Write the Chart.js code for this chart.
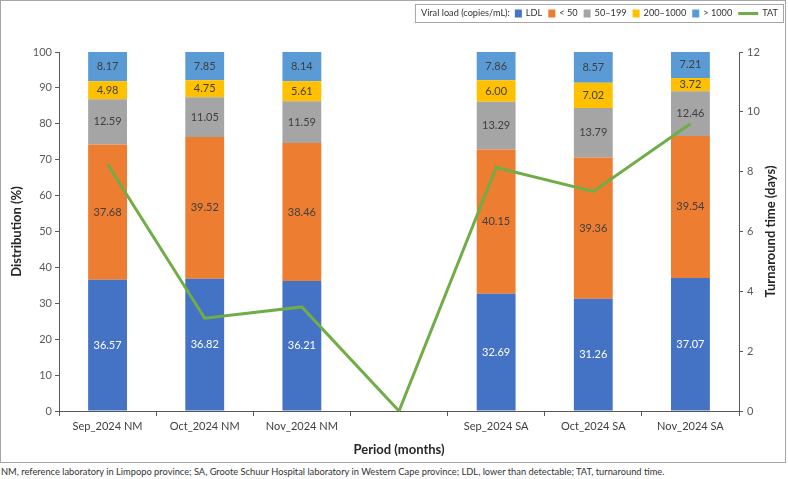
<!DOCTYPE html>
<html>
<head>
<meta charset="utf-8">
<script src="https://cdn.jsdelivr.net/npm/chart.js@4"></script>
<style>
  body { margin: 0; background: #fff; font-family: Lato, sans-serif; }
  #wrap { position: absolute; left: 0; top: 0; width: 784px; height: 461px; border: 1px solid #a6a6a6; }
  #note { position: absolute; left: 1px; top: 466px; font-size: 9.3px; color: #333; white-space: nowrap; }
</style>
</head>
<body>
<div id="wrap"><canvas id="chart"></canvas></div>
<div id="note">NM, reference laboratory in Limpopo province; SA, Groote Schuur Hospital laboratory in Western Cape province; LDL, lower than detectable; TAT, turnaround time.</div>
<script>
// Data
const periods = ['Sep_2024 NM', 'Oct_2024 NM', 'Nov_2024 NM', '', 'Sep_2024 SA', 'Oct_2024 SA', 'Nov_2024 SA'];
const ldl = [36.57, 36.82, 36.21, null, 32.69, 31.26, 37.07];
const below50 = [37.68, 39.52, 38.46, null, 40.15, 39.36, 39.54];
const range50to199 = [12.59, 11.05, 11.59, null, 13.29, 13.79, 12.46];
const range200to1000 = [4.98, 4.75, 5.61, null, 6.00, 7.02, 3.72];
const above1000 = [8.17, 7.85, 8.14, null, 7.86, 8.57, 7.21];
const tat = [8.25, 3.1, 3.48, 0, 8.14, 7.34, 9.6];

const distTicks = [0, 10, 20, 30, 40, 50, 60, 70, 80, 90, 100];
const tatTicks = [0, 2, 4, 6, 8, 10, 12];

const axisColor = '#595959';
const FONT = 'Lato, sans-serif';

function barSet(label, data, color, textColor) {
    return {
        type: 'bar', label: label, data: data, backgroundColor: color,
        yAxisID: 'y', stack: 'vl', order: 2,
        barPercentage: 0.4, categoryPercentage: 1.0,
        labelColor: textColor
    };
}

// Value labels inside bar segments
const barLabels = {
    id: 'barLabels',
    afterDatasetsDraw(chart) {
        const ctx = chart.ctx;
        ctx.save();
        ctx.font = '11px ' + FONT;
        ctx.textAlign = 'center';
        ctx.textBaseline = 'middle';
        chart.data.datasets.forEach((ds, i) => {
            if (ds.type !== 'bar') return;
            chart.getDatasetMeta(i).data.forEach((bar, j) => {
                const v = ds.data[j];
                if (v == null) return;
                ctx.fillStyle = ds.labelColor;
                const y = (bar.y + bar.base) / 2;
                ctx.fillText(v.toFixed(2), bar.x, y);
            });
        });
        ctx.restore();
    }
};

// Right axis title reads bottom-to-top, like Excel
const rightTitle = {
    id: 'rightTitle',
    afterDraw(chart) {
        const ctx = chart.ctx;
        const area = chart.chartArea;
        ctx.save();
        ctx.font = 'bold 13px ' + FONT;
        ctx.fillStyle = '#262626';
        ctx.textAlign = 'center';
        ctx.textBaseline = 'middle';
        ctx.translate(770, (area.top + area.bottom) / 2);
        ctx.rotate(-Math.PI / 2);
        ctx.fillText('Turnaround time (days)', 0, 0);
        ctx.restore();
    }
};

// Excel-style inline legend in a box
const boxLegend = {
    id: 'boxLegend',
    afterDraw(chart) {
        const ctx = chart.ctx;
        ctx.save();
        ctx.font = '9.2px ' + FONT;
        ctx.textBaseline = 'middle';
        ctx.fillStyle = '#333';
        const right = 782, top = 3, h = 18;
        const cy = top + h / 2 + 0.5;
        const title = 'Viral load (copies/mL):';
        const items = chart.data.datasets.map(ds => ({ label: ds.label, color: ds.type === 'line' ? ds.borderColor : ds.backgroundColor, line: ds.type === 'line' }));
        let w = ctx.measureText(title).width + 5;
        items.forEach(it => { w += (it.line ? 20 : 7) + 4 + ctx.measureText(it.label).width + 6; });
        const left = right - w - 5;
        ctx.strokeStyle = '#a6a6a6';
        ctx.lineWidth = 1;
        ctx.strokeRect(left + 0.5, top + 0.5, right - left, h);
        let x = left + 6;
        ctx.fillText(title, x, cy);
        x += ctx.measureText(title).width + 5;
        items.forEach(it => {
            if (it.line) {
                ctx.strokeStyle = it.color;
                ctx.lineWidth = 3;
                ctx.beginPath();
                ctx.moveTo(x, cy);
                ctx.lineTo(x + 20, cy);
                ctx.stroke();
                x += 20 + 4;
            } else {
                ctx.fillStyle = it.color;
                ctx.fillRect(x, cy - 4, 7, 8);
                x += 7 + 4;
            }
            ctx.fillStyle = '#333';
            ctx.fillText(it.label, x, cy);
            x += ctx.measureText(it.label).width + 6;
        });
        ctx.restore();
    }
};

new Chart(document.getElementById('chart'), {
    data: {
        labels: periods,
        datasets: [
            barSet('LDL', ldl, '#4472C4', '#ffffff'),
            barSet('< 50', below50, '#ED7D31', '#404040'),
            barSet('50\u2013199', range50to199, '#A5A5A5', '#404040'),
            barSet('200\u20131000', range200to1000, '#FFC000', '#404040'),
            barSet('> 1000', above1000, '#5B9BD5', '#404040'),
            {
                type: 'line', label: 'TAT', data: tat, yAxisID: 'y1', order: 1,
                borderColor: '#70AD47', backgroundColor: '#70AD47', borderWidth: 3,
                pointRadius: 0, tension: 0, fill: false
            }
        ]
    },
    options: {
        responsive: true,
        maintainAspectRatio: false,
        animation: false,
        layout: { padding: { top: 51, left: 0, right: 0, bottom: 0 } },
        plugins: { legend: { display: false }, tooltip: { enabled: false } },
        scales: {
            x: {
                stacked: true,
                offset: true,
                afterFit: s => { s.height = 51; },
                border: { color: axisColor },
                grid: { offset: true, drawOnChartArea: false, drawTicks: true, tickLength: 5, color: axisColor },
                ticks: { color: '#404040', font: { family: FONT, size: 11 }, padding: 4, maxRotation: 0, autoSkip: false },
                title: { display: true, text: 'Period (months)', color: '#262626', font: { family: FONT, size: 13, weight: 'bold' }, padding: { top: 2 } }
            },
            y: {
                stacked: true,
                position: 'left',
                min: 0, max: 100,
                afterFit: s => { s.width = 58; },
                afterBuildTicks: s => { s.ticks = distTicks.map(v => ({ value: v })); },
                border: { color: axisColor },
                grid: { drawOnChartArea: false, drawTicks: true, tickLength: 4, color: axisColor },
                ticks: { color: axisColor, font: { family: FONT, size: 11 }, padding: 3 },
                title: { display: true, text: 'Distribution (%)', color: '#262626', font: { family: FONT, size: 13, weight: 'bold' }, padding: { top: 8, bottom: 0 } }
            },
            y1: {
                position: 'right',
                min: 0, max: 12,
                afterFit: s => { s.width = 46; },
                afterBuildTicks: s => { s.ticks = tatTicks.map(v => ({ value: v })); },
                border: { color: axisColor },
                grid: { drawOnChartArea: false, drawTicks: true, tickLength: 4, color: axisColor },
                ticks: { color: axisColor, font: { family: FONT, size: 11 }, padding: 4 },
                title: { display: false }
            }
        }
    },
    plugins: [barLabels, boxLegend, rightTitle]
});
</script>
</body>
</html>
